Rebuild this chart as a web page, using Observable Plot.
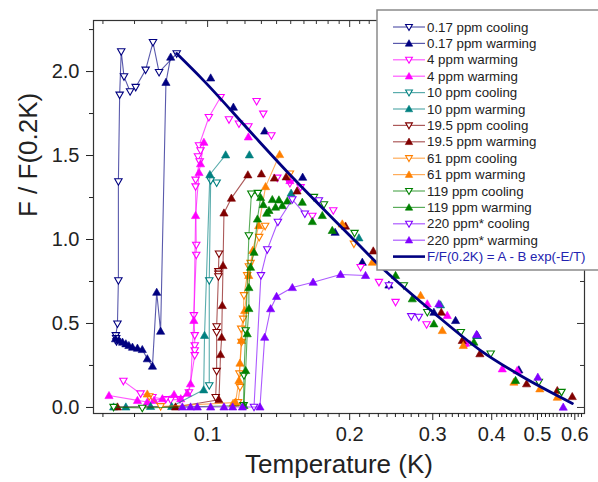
<!DOCTYPE html>
<html><head><meta charset="utf-8">
<script src="https://cdn.jsdelivr.net/npm/d3@7"></script>
<script src="https://cdn.jsdelivr.net/npm/@observablehq/plot@0.6"></script>
<style>
body{margin:0;background:#fff;}
#chart{width:598px;height:482px;}
</style></head><body><div id="chart"></div>
<script>
// ---- data: [Temperature (K), F/F(0.2K)] ----
const cool017 = [[0.0860,2.107],[0.0789,1.996],[0.0766,2.174],[0.0739,2.010],[0.0704,1.907],[0.0685,1.881],[0.0665,1.970],[0.0656,2.119],[0.0651,1.861],[0.0647,1.345],[0.0647,0.756],[0.0644,0.498],[0.0639,0.429],[0.0640,0.411],[0.0641,0.393]];
const warm017 = [[0.0638,0.409],[0.0649,0.399],[0.0660,0.389],[0.0671,0.379],[0.0681,0.369],[0.0693,0.359],[0.0710,0.353],[0.0727,0.345],[0.0745,0.290],[0.0764,0.246],[0.0780,0.686],[0.0795,0.454],[0.0816,1.936],[0.0835,2.086]];
const warm017x = [[0.1015,1.962],[0.1134,1.788],[0.1321,1.646],[0.1590,1.371],[0.1863,1.043],[0.2127,0.865],[0.2422,0.729],[0.3016,0.567],[0.3353,0.518],[0.3729,0.429],[0.4566,0.224]];

const cool4 = [[0.1065,1.847],[0.1006,1.728],[0.0959,1.560],[0.0966,1.530],[0.0954,1.494],[0.0962,1.464],[0.0943,1.355],[0.0943,1.315],[0.0946,0.967],[0.0946,0.908],[0.0935,0.548],[0.0939,0.429],[0.0939,0.369],[0.0939,0.339],[0.0939,0.310],[0.0913,0.089],[0.0874,0.048],[0.0835,0.045],[0.0815,0.048],[0.0764,0.061],[0.0721,0.082],[0.0663,0.157]];
const cool4x = [[0.1270,1.823],[0.1312,1.748],[0.1110,1.714],[0.1165,1.689],[0.1220,1.673],[0.1365,1.619],[0.1405,1.367],[0.1494,1.335],[0.1574,1.311],[0.1667,1.140],[0.1846,1.173],[0.2110,0.835],[0.2307,0.746],[0.2502,0.627],[0.2911,0.494],[0.3537,0.379]];
const warm4 = [[0.0618,0.071],[0.0710,0.042],[0.0745,0.032],[0.0770,0.042],[0.0802,0.052],[0.0849,0.077],[0.0877,0.052],[0.0906,0.085],[0.0920,0.141],[0.0935,0.518],[0.0943,1.143],[0.0959,1.399],[0.0966,1.451],[0.0982,1.579]];
const warm4x = [[0.1220,1.611],[0.1494,1.351],[0.2921,0.617],[0.3220,0.548],[0.3520,0.383],[0.4211,0.230],[0.4530,0.220]];

const cool10 = [[0.1045,1.338],[0.1015,1.351],[0.1008,0.756],[0.1008,0.131]];
const warm10 = [[0.0632,0.003],[0.0671,0.003],[0.0757,0.006],[0.0839,0.006],[0.0981,0.105],[0.0985,0.429],[0.1011,1.387],[0.1092,1.504]];
const warm10x = [[0.1226,1.504],[0.1503,1.276],[0.2092,1.010],[0.3116,0.611],[0.3715,0.429]];

const cool19 = [[0.1057,0.915],[0.1054,0.810],[0.1054,0.795],[0.1054,0.780],[0.1045,0.482],[0.1045,0.448],[0.1045,0.216],[0.1040,0.061]];
const warm19 = [[0.0644,0.003],[0.0855,0.003],[0.1057,0.046],[0.1065,0.315],[0.1071,0.418],[0.1074,0.607],[0.1078,0.845],[0.1083,1.158],[0.1123,1.246],[0.1217,1.385]];
const warm19x = [[0.1300,1.391],[0.1385,1.366],[0.1467,1.373],[0.1547,1.289],[0.1960,1.080],[0.2244,0.932],[0.3127,0.567],[0.3464,0.399],[0.3775,0.320],[0.4741,0.141],[0.5508,0.101],[0.5925,0.065]];

const cool61 = [[0.1324,1.080],[0.1286,1.014],[0.1233,0.859],[0.1223,0.839],[0.1213,0.786],[0.1194,0.667],[0.1189,0.527],[0.1178,0.468],[0.1180,0.389],[0.1168,0.201],[0.1171,0.121],[0.1160,0.030],[0.0795,0.006],[0.0752,0.065]];
const cool61x = [[0.1494,1.391],[0.2042,0.974]];
const warm61 = [[0.1132,0.024],[0.1146,0.032],[0.1165,0.161],[0.1171,0.264],[0.1179,0.399],[0.1198,0.577],[0.1222,0.786],[0.1246,0.935],[0.1283,1.083],[0.1327,1.315],[0.1421,1.506]];
const warm61x = [[0.0745,0.080],[0.1929,1.093],[0.2234,0.865],[0.2827,0.667],[0.3143,0.458],[0.3481,0.369],[0.4457,0.151],[0.5058,0.111],[0.5508,0.061]];

const cool119 = [[0.1278,1.276],[0.1238,1.272],[0.1223,1.024],[0.1204,0.458],[0.1194,0.190],[0.1192,0.012],[0.0727,-0.003],[0.0632,0.002]];
const cool119x = [[0.1680,1.252],[0.1764,1.208],[0.2048,1.038],[0.2605,0.726],[0.2921,0.567],[0.3440,0.448],[0.3980,0.320],[0.5034,0.151],[0.5623,0.091]];
const warm119 = [[0.1194,0.012],[0.1204,0.220],[0.1213,0.439],[0.1223,0.589],[0.1223,0.714],[0.1233,0.835],[0.1254,0.924],[0.1275,1.122],[0.1295,1.250]];
const warm119x = [[0.1312,1.208],[0.1334,1.157],[0.1349,1.173],[0.1371,1.238],[0.1393,1.193],[0.1416,1.236],[0.1440,1.202],[0.1475,1.229],[0.1587,1.222],[0.1667,1.107],[0.1750,1.143],[0.1837,1.054],[0.2502,0.786],[0.2715,0.647],[0.3016,0.498],[0.3666,0.389],[0.4493,0.161]];

const cool220 = [[0.1607,1.153],[0.1512,1.238],[0.1409,1.104],[0.1338,0.940],[0.1297,0.786],[0.1254,0.003]];
const cool220x = [[0.1721,1.232],[0.2422,0.726],[0.2701,0.542],[0.2803,0.538]];
const warm220 = [[0.0884,0.003],[0.0920,0.003],[0.0951,0.003],[0.1015,0.003],[0.1083,0.003],[0.1130,0.003],[0.1185,0.003],[0.1291,0.003],[0.1321,0.418],[0.1360,0.588],[0.1400,0.661],[0.1512,0.714],[0.1673,0.746],[0.1913,0.792],[0.2161,0.786]];
const warm220x = [[0.3090,0.617],[0.3715,0.435],[0.5009,0.180],[0.5670,0.002]];

const fitT = [0.0860,0.0981,0.1233,0.150,0.201,0.229,0.301,0.379,0.460,0.593];
const fitF = [2.107,1.946,1.640,1.381,1.018,0.857,0.565,0.339,0.190,0.024];

const seriesLabels = ["0.17 ppm cooling","0.17 ppm warming","4 ppm warming","4 ppm warming","10 ppm cooling","10 ppm warming","19.5 ppm cooling","19.5 ppm warming","61 ppm cooling","61 ppm warming","119 ppm cooling","119 ppm warming","220 ppm* cooling","220 ppm* warming"];
const seriesColors = ["#000080","#000080","#ff00ff","#ff00ff","#008080","#008080","#800000","#800000","#ff8000","#ff8000","#008000","#008000","#8000ff","#8000ff"];
const seriesLines = [cool017,warm017,cool4,warm4,cool10,warm10,cool19,warm19,cool61,warm61,cool119,warm119,cool220,warm220];
const seriesExtra = [[],warm017x,cool4x,warm4x,[],warm10x,[],warm19x,cool61x,warm61x,cool119x,warm119x,cool220x,warm220x];
const fitLabel = "F/F(0.2K) = A - B exp(-E/T)";

const xTickLabels = ["0.1","0.2","0.3","0.4","0.5","0.6"];
const yTickLabels = ["0.0","0.5","1.0","1.5","2.0"];
const xMajor = xTickLabels.map(Number);
const yMajor = yTickLabels.map(Number);
const xMinor = d3.range(6, 63).map(d => d / 100).filter(d => !xMajor.some(m => Math.abs(m - d) < 1e-9));
const yMinor = [0.25, 0.75, 1.25, 1.75, 2.25];

// ---- symbols ----
const triUp = {draw(ctx, size){const r=Math.sqrt(size/Math.PI);ctx.moveTo(0,-r);ctx.lineTo(r,r*0.75);ctx.lineTo(-r,r*0.75);ctx.closePath();}};
const triDown = {draw(ctx, size){const r=Math.sqrt(size/Math.PI);ctx.moveTo(0,r);ctx.lineTo(r,-r*0.75);ctx.lineTo(-r,-r*0.75);ctx.closePath();}};

const W=598,H=482,mL=93,mR=14,mT=20,mB=69;
const plotW=W-mL-mR, plotH=H-mT-mB;
const X=d=>d[0], Y=d=>d[1];

const marks = [
  Plot.frame({stroke:"#333", strokeWidth:1.2}),
  Plot.axisX({ticks:xMajor, tickSize:7, tickPadding:6, fontSize:20, tickFormat:d=>xTickLabels[xMajor.indexOf(d)], label:null}),
  Plot.axisX({ticks:xMinor, tickSize:4, tickFormat:()=>"", label:null}),
  Plot.axisY({ticks:yMajor, tickSize:7, tickPadding:7, fontSize:20, tickFormat:d=>yTickLabels[yMajor.indexOf(d)], label:null}),
  Plot.axisY({ticks:yMinor, tickSize:4, tickFormat:()=>"", label:null}),
  Plot.tickX(xMajor, {x:d=>d, insetBottom:plotH-7, stroke:"#333"}),
  Plot.tickX(xMinor, {x:d=>d, insetBottom:plotH-4, stroke:"#333"}),
  Plot.tickY(yMajor, {y:d=>d, insetLeft:plotW-7, stroke:"#333"}),
  Plot.tickY(yMinor, {y:d=>d, insetLeft:plotW-4, stroke:"#333"}),
  Plot.text(["Temperature (K)"], {frameAnchor:"bottom", dy:59, fontSize:26, fill:"#222"}),
  Plot.text(["F / F(0.2K)"], {frameAnchor:"left", dx:-65, rotate:-90, fontSize:26, fill:"#222"})
];
seriesLines.forEach((ln, i) => {
  const open = i % 2 === 0;
  marks.push(Plot.line(ln, {x:X, y:Y, stroke:seriesColors[i], strokeOpacity:0.65, strokeWidth:1.1}));
  marks.push(Plot.dot(ln.concat(seriesExtra[i]), {x:X, y:Y, symbol: open ? triDown : triUp, r: open ? 3.7 : 4.1,
    fill: open ? "white" : seriesColors[i], stroke: seriesColors[i], strokeWidth: open ? 1.1 : 0.6}));
});
marks.push(Plot.line(fitT.map((t,i)=>[t,fitF[i]]), {x:X, y:Y, stroke:"#000080", strokeWidth:2.8, curve:"monotone-x"}));

const svg = Plot.plot({
  width:W, height:H, marginLeft:mL, marginRight:mR, marginTop:mT, marginBottom:mB,
  x:{type:"log", domain:[0.0573, 0.629]},
  y:{domain:[-0.036, 2.304]},
  style:{fontFamily:"'Liberation Sans', Arial, sans-serif", color:"#222", background:"white", overflow:"visible"},
  marks
});
document.getElementById("chart").appendChild(svg);

// ---- legend (overlay, top right) ----
const g = d3.select(svg).append("g").attr("font-family","'Liberation Sans', Arial, sans-serif").attr("text-anchor","start");
g.append("rect").attr("x",377).attr("y",10).attr("width",240).attr("height",260).attr("fill","white").attr("stroke","#8a8a8a").attr("stroke-width",1.5);
const rowY = i => 27 + i * 16.4;
seriesLabels.forEach((lab, i) => {
  const open = i % 2 === 0, c = seriesColors[i], y = rowY(i);
  g.append("line").attr("x1",393).attr("x2",425).attr("y1",y).attr("y2",y).attr("stroke",c).attr("stroke-opacity",0.65).attr("stroke-width",1.2);
  g.append("path").attr("transform",`translate(409,${y})`).attr("d", d3.symbol(open?triDown:triUp, Math.PI*(open?3.4:3.7)**2)())
    .attr("fill", open?"white":c).attr("stroke",c).attr("stroke-width",open?1.1:0.6);
  g.append("text").attr("x",427).attr("y",y).attr("dy","0.35em").attr("font-size",13.3).attr("text-anchor","start").attr("fill","#222").text(lab);
});
const yf = rowY(14);
g.append("line").attr("x1",393).attr("x2",425).attr("y1",yf).attr("y2",yf).attr("stroke","#000080").attr("stroke-width",2.6);
g.append("text").attr("x",427).attr("y",yf).attr("dy","0.35em").attr("font-size",13.3).attr("text-anchor","start").attr("fill","#2323b0").text(fitLabel);
</script></body></html>
